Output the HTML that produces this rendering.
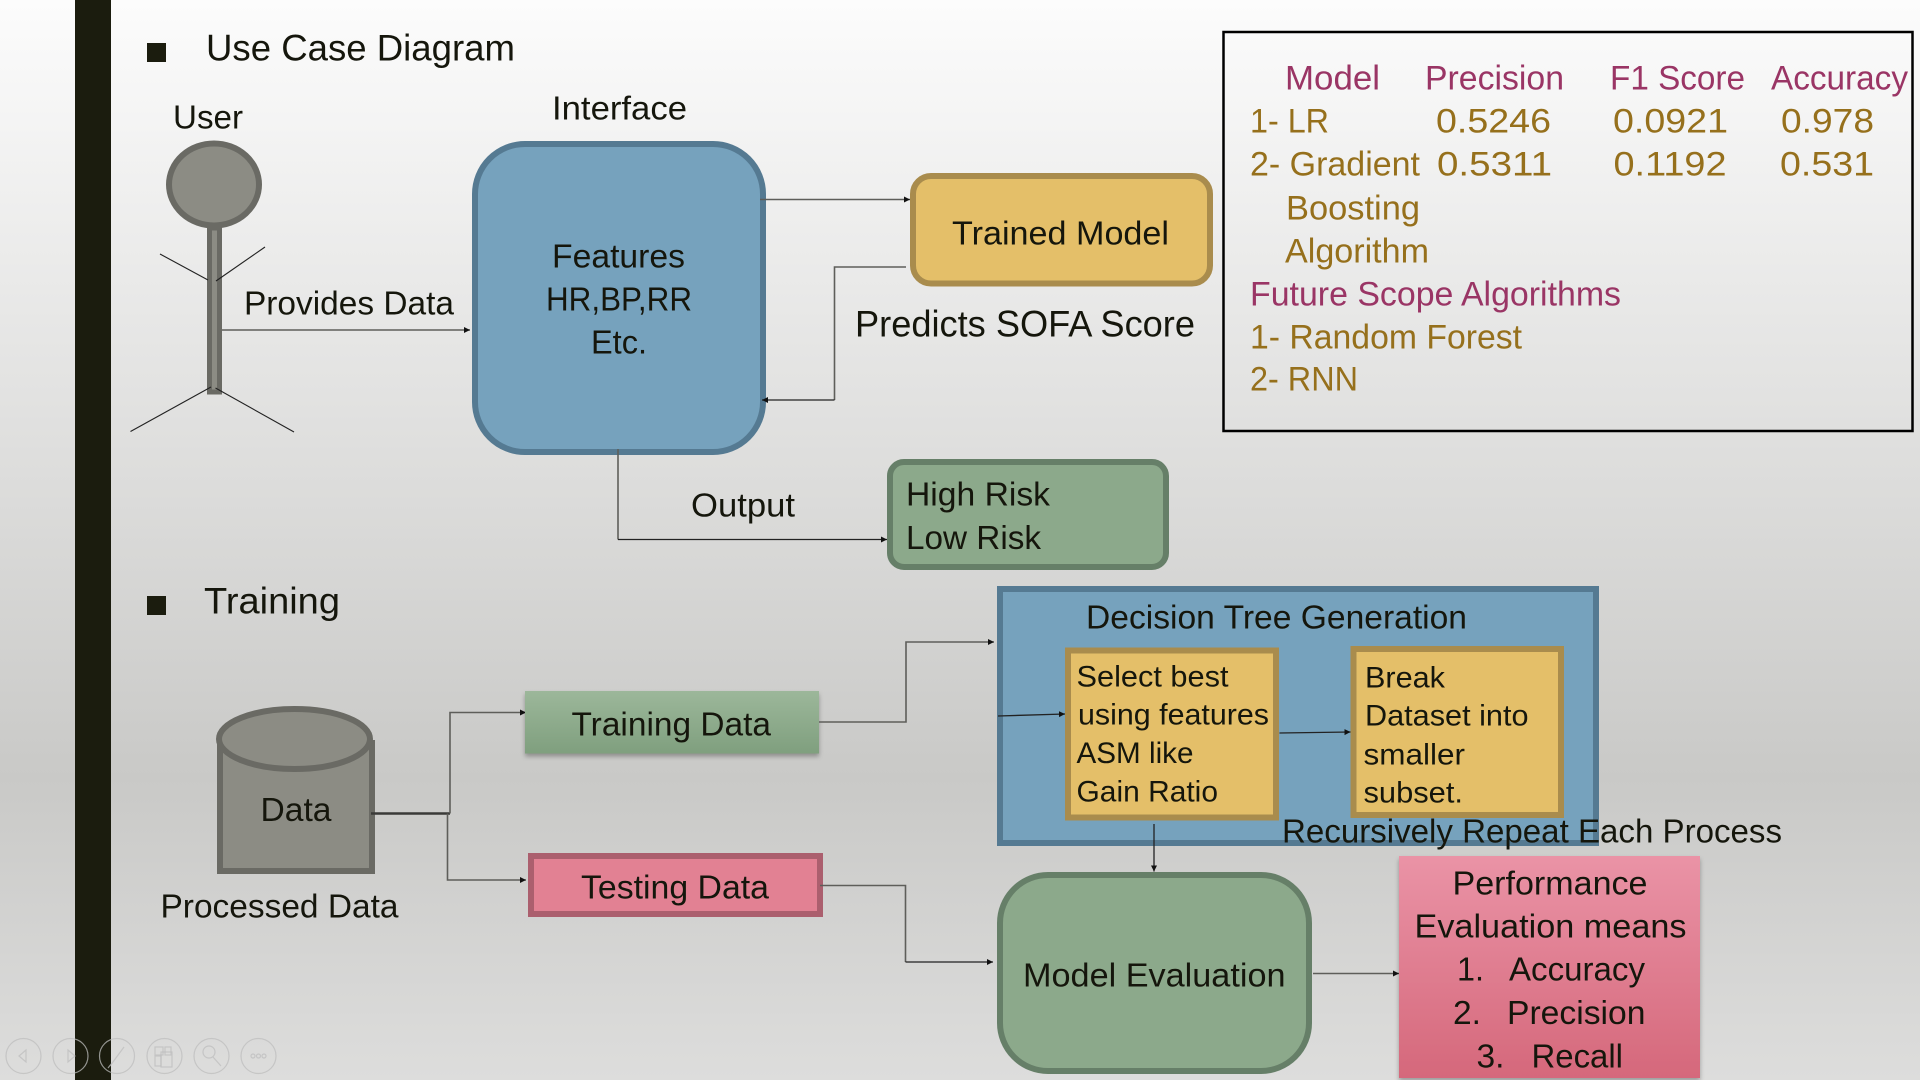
<!DOCTYPE html>
<html><head><meta charset="utf-8"><title>Use Case Diagram</title>
<style>
html,body{margin:0;padding:0;width:1920px;height:1080px;overflow:hidden;background:#ddd}
svg{display:block}
text{font-family:"Liberation Sans",sans-serif;fill:#15160c;transform:translate(-1px,.6px)}
.h{font-size:37px}.m{font-size:33px}.t{font-size:34px}.s{font-size:30px}
text.p{fill:#9a3565}text.g{fill:#96701c}
.c{fill:none;stroke:#5e5e5a;stroke-width:1.6}
.d{fill:none;stroke:#222;stroke-width:1.3}
</style></head><body>
<svg width="1920" height="1080" viewBox="0 0 1920 1080" xmlns="http://www.w3.org/2000/svg">
<defs>
<linearGradient id="bg" x1="0" y1="0" x2="0" y2="1"><stop offset="0" stop-color="#fcfcfc"/><stop offset=".72" stop-color="#c9c9c7"/><stop offset="1" stop-color="#dddddc"/></linearGradient>
<linearGradient id="gr" x1="0" y1="0" x2="0" y2="1"><stop offset="0" stop-color="#9cb79a"/><stop offset="1" stop-color="#7f9f7e"/></linearGradient>
<linearGradient id="pk" x1="0" y1="0" x2="0" y2="1"><stop offset="0" stop-color="#ea93a6"/><stop offset="1" stop-color="#d5687b"/></linearGradient>
<marker id="a" markerUnits="userSpaceOnUse" markerWidth="7" markerHeight="7" refX="6" refY="3.5" orient="auto"><path d="M0 0.5L6 3.5L0 6.5z" fill="#111"/></marker>
<filter id="sh" x="-5%" y="-10%" width="110%" height="125%"><feDropShadow dx="0" dy="3" stdDeviation="2.5" flood-color="#000" flood-opacity=".3"/></filter>
</defs>
<rect width="1920" height="1080" fill="url(#bg)"/>
<rect x="75" y="0" width="36" height="1080" fill="#1b1c0e"/>

<!-- headings -->
<rect x="147" y="43" width="19" height="19" fill="#1b1c0e"/>
<text class="h" x="207" y="60" textLength="309" lengthAdjust="spacingAndGlyphs">Use Case Diagram</text>
<rect x="147" y="596" width="19" height="19" fill="#1b1c0e"/>
<text class="h" x="205" y="613" textLength="136" lengthAdjust="spacingAndGlyphs">Training</text>

<!-- user -->
<text class="m" x="174" y="128" textLength="70" lengthAdjust="spacingAndGlyphs">User</text>
<rect x="209.500" y="228" width="10" height="164" fill="#8c8c84" stroke="#6a6a64" stroke-width="5"/>
<ellipse cx="214" cy="184.500" rx="45" ry="41" fill="#8c8c84" stroke="#6a6a64" stroke-width="6"/>
<g stroke="#222" stroke-width="1.1" fill="none">
<line x1="160" y1="254" x2="208" y2="280"/><line x1="265" y1="247" x2="216" y2="281"/>
<line x1="130.500" y1="431.500" x2="211" y2="387"/><line x1="294" y1="432" x2="215.500" y2="388"/>
</g>
<text class="m" x="245" y="314" textLength="210" lengthAdjust="spacingAndGlyphs">Provides Data</text>
<path class="c" d="M222 330H470" marker-end="url(#a)"/>

<!-- interface -->
<text class="m" x="553" y="119" textLength="135" lengthAdjust="spacingAndGlyphs">Interface</text>
<rect x="475" y="144" width="288" height="308" rx="50" ry="50" fill="#76a2bd" stroke="#557a92" stroke-width="6"/>
<text class="m" x="553" y="267" textLength="133" lengthAdjust="spacingAndGlyphs">Features</text>
<text class="m" x="547" y="310" textLength="146" lengthAdjust="spacingAndGlyphs">HR,BP,RR</text>
<text class="m" x="592" y="353" textLength="56" lengthAdjust="spacingAndGlyphs">Etc.</text>

<!-- trained -->
<path class="c" d="M760 199.500H910" marker-end="url(#a)"/>
<rect x="913" y="176" width="297" height="107.500" rx="18" ry="18" fill="#e4bf69" stroke="#a98c4d" stroke-width="6"/>
<text class="m" x="953" y="244" textLength="217" lengthAdjust="spacingAndGlyphs">Trained Model</text>
<path class="c" d="M906 267H834.500V400"/>
<path class="d" d="M834.500 400H762" marker-end="url(#a)"/>
<text class="h" x="856" y="336" textLength="340" lengthAdjust="spacingAndGlyphs">Predicts SOFA Score</text>

<!-- output -->
<path class="c" d="M618 449V539.500"/>
<path class="d" d="M618 539.500H887" marker-end="url(#a)"/>
<text class="m" x="692" y="516" textLength="104" lengthAdjust="spacingAndGlyphs">Output</text>
<rect x="890" y="462" width="276" height="105" rx="14" ry="14" fill="#8ca98b" stroke="#667f68" stroke-width="6"/>
<text class="m" x="907" y="505" textLength="144" lengthAdjust="spacingAndGlyphs">High Risk</text>
<text class="m" x="907" y="548.500" textLength="135" lengthAdjust="spacingAndGlyphs">Low Risk</text>

<!-- table -->
<rect x="1223.500" y="32" width="689" height="399" fill="none" stroke="#000" stroke-width="2.500"/>
<text class="t p" x="1286" y="89" textLength="95" lengthAdjust="spacingAndGlyphs">Model</text>
<text class="t p" x="1426" y="89" textLength="139" lengthAdjust="spacingAndGlyphs">Precision</text>
<text class="t p" x="1611" y="89" textLength="135" lengthAdjust="spacingAndGlyphs">F1 Score</text>
<text class="t p" x="1772" y="89" textLength="137" lengthAdjust="spacingAndGlyphs">Accuracy</text>
<text class="t g" x="1251" y="132" textLength="79" lengthAdjust="spacingAndGlyphs">1- LR</text>
<text class="t g" x="1437" y="132" textLength="115" lengthAdjust="spacingAndGlyphs">0.5246</text>
<text class="t g" x="1614" y="132" textLength="115" lengthAdjust="spacingAndGlyphs">0.0921</text>
<text class="t g" x="1782" y="132" textLength="93" lengthAdjust="spacingAndGlyphs">0.978</text>
<text class="t g" x="1251" y="175" textLength="170" lengthAdjust="spacingAndGlyphs">2- Gradient</text>
<text class="t g" x="1438" y="175" textLength="115" lengthAdjust="spacingAndGlyphs">0.5311</text>
<text class="t g" x="1614.500" y="175" textLength="113" lengthAdjust="spacingAndGlyphs">0.1192</text>
<text class="t g" x="1781" y="175" textLength="94" lengthAdjust="spacingAndGlyphs">0.531</text>
<text class="t g" x="1287" y="219" textLength="134" lengthAdjust="spacingAndGlyphs">Boosting</text>
<text class="t g" x="1286" y="262" textLength="144" lengthAdjust="spacingAndGlyphs">Algorithm</text>
<text class="t p" x="1251" y="305" textLength="371" lengthAdjust="spacingAndGlyphs">Future Scope Algorithms</text>
<text class="t g" x="1251" y="348" textLength="272" lengthAdjust="spacingAndGlyphs">1- Random Forest</text>
<text class="t g" x="1251" y="390" textLength="108" lengthAdjust="spacingAndGlyphs">2- RNN</text>

<!-- cylinder -->
<path d="M220 740V871H372V740" fill="#8c8c84" stroke="#6a6a64" stroke-width="6"/>
<ellipse cx="294.500" cy="739" rx="75.500" ry="30" fill="#8c8c84" stroke="#6a6a64" stroke-width="6"/>
<text class="m" x="261.500" y="820.500" textLength="71" lengthAdjust="spacingAndGlyphs">Data</text>
<text class="m" x="161.500" y="917" textLength="238" lengthAdjust="spacingAndGlyphs">Processed Data</text>

<!-- data connectors -->
<path d="M371 813.500H450" fill="none" stroke="#3a3a38" stroke-width="2.400"/>
<path class="c" d="M450 813.500V712.500H526" marker-end="url(#a)"/>
<path class="c" d="M447.500 813.500V880H526" marker-end="url(#a)"/>

<rect x="525" y="691" width="294" height="62.500" fill="url(#gr)" filter="url(#sh)"/>
<text class="m" x="572.500" y="735" textLength="199.500" lengthAdjust="spacingAndGlyphs">Training Data</text>
<rect x="531" y="856" width="289" height="58" fill="#e28193" stroke="#ab5f6e" stroke-width="6"/>
<text class="m" x="582" y="898" textLength="188" lengthAdjust="spacingAndGlyphs">Testing Data</text>

<path class="c" d="M819 722H906V642H994" marker-end="url(#a)"/>
<path class="c" d="M820 885.500H905.500V962"/>
<path class="d" d="M905.500 962H993" marker-end="url(#a)"/>

<!-- decision tree -->
<rect x="1000" y="589" width="596" height="254" fill="#76a2bd" stroke="#557a92" stroke-width="6"/>
<text class="m" x="1087" y="628" textLength="381" lengthAdjust="spacingAndGlyphs">Decision Tree Generation</text>
<rect x="1068" y="650.500" width="208" height="167" fill="#e4bf69" stroke="#a98c4d" stroke-width="6"/>
<rect x="1353.500" y="649" width="207.500" height="166" fill="#e4bf69" stroke="#a98c4d" stroke-width="6"/>
<text class="s" x="1077.500" y="686" textLength="152" lengthAdjust="spacingAndGlyphs">Select best</text>
<text class="s" x="1079" y="724" textLength="191" lengthAdjust="spacingAndGlyphs">using features</text>
<text class="s" x="1077.500" y="762.500" textLength="117" lengthAdjust="spacingAndGlyphs">ASM like</text>
<text class="s" x="1077.500" y="801" textLength="141.500" lengthAdjust="spacingAndGlyphs">Gain Ratio</text>
<text class="s" x="1366" y="687" textLength="80" lengthAdjust="spacingAndGlyphs">Break</text>
<text class="s" x="1366" y="725" textLength="163.500" lengthAdjust="spacingAndGlyphs">Dataset into</text>
<text class="s" x="1364.500" y="764" textLength="101.500" lengthAdjust="spacingAndGlyphs">smaller</text>
<text class="s" x="1364.500" y="802" textLength="99.500" lengthAdjust="spacingAndGlyphs">subset.</text>
<path class="d" d="M998 716L1065 714" marker-end="url(#a)"/>
<path class="d" d="M1279.500 733L1350.500 732" marker-end="url(#a)"/>
<text class="m" x="1283" y="842" textLength="500" lengthAdjust="spacingAndGlyphs">Recursively Repeat Each Process</text>
<path class="d" d="M1154 824V871.500" marker-end="url(#a)"/>

<!-- model evaluation -->
<rect x="1000" y="875" width="309" height="196" rx="48" ry="48" fill="#8ca98b" stroke="#667f68" stroke-width="6"/>
<text class="m" x="1024" y="986" textLength="262.500" lengthAdjust="spacingAndGlyphs">Model Evaluation</text>
<path class="c" d="M1313 973.500H1399" marker-end="url(#a)"/>

<!-- performance -->
<rect x="1399" y="856" width="301" height="222" fill="url(#pk)" filter="url(#sh)"/>
<text class="m" x="1453.500" y="894" textLength="195" lengthAdjust="spacingAndGlyphs">Performance</text>
<text class="m" x="1415.500" y="937" textLength="272" lengthAdjust="spacingAndGlyphs">Evaluation means</text>
<text class="m" x="1458" y="980" textLength="27" lengthAdjust="spacingAndGlyphs">1.</text>
<text class="m" x="1510" y="980" textLength="136" lengthAdjust="spacingAndGlyphs">Accuracy</text>
<text class="m" x="1454" y="1023.500" textLength="28" lengthAdjust="spacingAndGlyphs">2.</text>
<text class="m" x="1508" y="1023.500" textLength="138.500" lengthAdjust="spacingAndGlyphs">Precision</text>
<text class="m" x="1477.500" y="1067" textLength="28" lengthAdjust="spacingAndGlyphs">3.</text>
<text class="m" x="1532.500" y="1067" textLength="91.500" lengthAdjust="spacingAndGlyphs">Recall</text>

<!-- presenter controls -->
<g fill="none" stroke="#bdbdbd" stroke-opacity=".75" stroke-width="1.2">
<ellipse cx="23.500" cy="1056" rx="17.500" ry="17.500"/>
<ellipse cx="70.500" cy="1056" rx="17.500" ry="17.500"/>
<ellipse cx="117" cy="1056" rx="17.500" ry="17.500"/>
<ellipse cx="164.500" cy="1056" rx="17.500" ry="17.500"/>
<ellipse cx="211.500" cy="1056" rx="17.500" ry="17.500"/>
<ellipse cx="258.500" cy="1056" rx="17.500" ry="17.500"/>
<path d="M26 1050L19 1056L26 1062z"/>
<path d="M68 1050L75 1056L68 1062z"/>
<path d="M110 1066L124 1047M108 1068L112 1063"/>
<rect x="155" y="1047" width="8" height="8"/><rect x="165" y="1047" width="6" height="8"/><rect x="155" y="1056" width="6" height="10"/><rect x="161" y="1052" width="11" height="15"/>
<circle cx="209" cy="1052" r="6"/><path d="M213 1057L221 1066"/>
<circle cx="253" cy="1056" r="2"/><circle cx="258.500" cy="1056" r="2"/><circle cx="264" cy="1056" r="2"/>
</g>
</svg>
</body></html>
